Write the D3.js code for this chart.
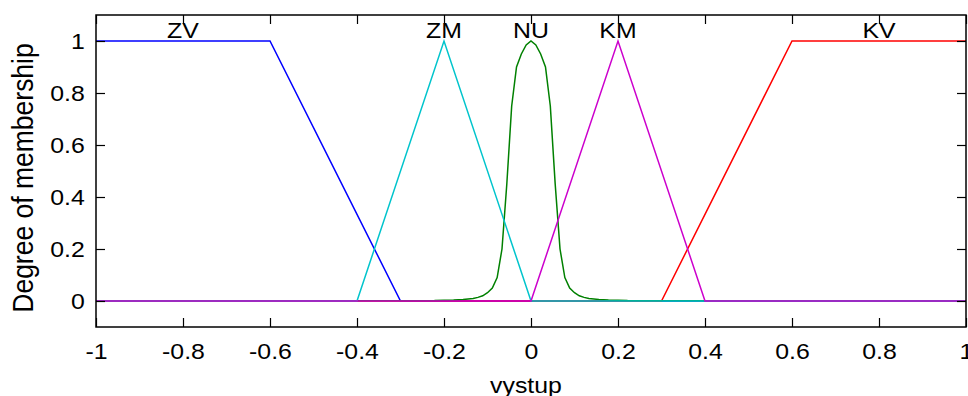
<!DOCTYPE html>
<html>
<head>
<meta charset="utf-8">
<script src="https://cdn.jsdelivr.net/npm/d3@7"></script>
<style>
  body { margin: 0; background: #fff; }
  text { font-family: "Liberation Sans", Arial, sans-serif; fill: #000; }
</style>
</head>
<body>
<div id="chart"></div>
<script>
// membership functions of output "vystup"
var mfNames = ["ZV", "ZM", "NU", "KM", "KV"];
var mfCenters = [-0.8, -0.2, 0, 0.2, 0.8];

var zvX = [-1, -0.6, -0.3, 1];
var zvY = [1, 1, 0, 0];

var zmX = [-1, -0.4, -0.2, 0, 1];
var zmY = [0, 0, 1, 0, 0];

var nuX = [-1, -0.222, -0.178, -0.156, -0.133, -0.122, -0.111, -0.1, -0.0889, -0.0778, -0.0667, -0.0556, -0.0444, -0.0333, -0.0222, -0.0111, 0,
           0.0111, 0.0222, 0.0333, 0.0444, 0.0556, 0.0667, 0.0778, 0.0889, 0.1, 0.111, 0.122, 0.133, 0.156, 0.178, 0.222, 1];
var nuY = [0, 0.002, 0.004, 0.006, 0.01, 0.014, 0.02, 0.032, 0.05, 0.09, 0.2, 0.45, 0.75, 0.9, 0.95, 0.985, 1,
           0.985, 0.95, 0.9, 0.75, 0.45, 0.2, 0.09, 0.05, 0.032, 0.02, 0.014, 0.01, 0.006, 0.004, 0.002, 0];

var kmX = [-1, 0, 0.2, 0.4, 1];
var kmY = [0, 0, 1, 0, 0];

var kvX = [-1, 0.3, 0.6, 1];
var kvY = [0, 0, 1, 1];

var xTicks = [-1, -0.8, -0.6, -0.4, -0.2, 0, 0.2, 0.4, 0.6, 0.8, 1];
var yTicks = [0, 0.2, 0.4, 0.6, 0.8, 1];

function drawChart() {
	var width = 968, height = 396;
	var padL = 96, padR = 966, padT = 15, padB = 327;
	var stretch = 1.13;

	var svg = d3.select("#chart").append("svg")
	    .attr("width", width)
	    .attr("height", height);

	var x = d3.scaleLinear().domain([-1, 1]).range([padL, padR]);
	var y = d3.scaleLinear().domain([-0.1, 1.1]).range([padB, padT]);

	var line = d3.line()
	    .x(d => x(d[0]))
	    .y(d => y(d[1]));

	// drawing order matters for the zero line (magenta ends on top)
	var curves = [
	  { xs: zvX, ys: zvY, color: "#0000ff" },
	  { xs: kvX, ys: kvY, color: "#ff0000" },
	  { xs: nuX, ys: nuY, color: "#008000" },
	  { xs: zmX, ys: zmY, color: "#00c4cc" },
	  { xs: kmX, ys: kmY, color: "#cc00cc" }
	];

	svg.append("g").selectAll("path")
	    .data(curves)
	    .enter()
	    .append("path")
	    .attr("d", d => line(d.xs.map((v, i) => [v, d.ys[i]])))
	    .attr("fill", "none")
	    .attr("stroke", d => d.color)
	    .attr("stroke-width", 1.5);

	// axes, ticks pointing inward on all four sides
	svg.append("g")
	    .attr("transform", "translate(0," + padB + ")")
	    .call(d3.axisBottom(x).tickValues(xTicks).tickSize(-9).tickPadding(16).tickFormat(d => String(d)));
	svg.append("g")
	    .attr("transform", "translate(0," + padT + ")")
	    .call(d3.axisTop(x).tickValues(xTicks).tickSize(-9).tickFormat(""));
	svg.append("g")
	    .attr("transform", "translate(" + padL + ",0)")
	    .call(d3.axisLeft(y).tickValues(yTicks).tickSize(-9).tickPadding(10).tickFormat(d => String(d)));
	svg.append("g")
	    .attr("transform", "translate(" + padR + ",0)")
	    .call(d3.axisRight(y).tickValues(yTicks).tickSize(-9).tickFormat(""));

	svg.selectAll(".domain").remove();
	svg.selectAll(".tick line").attr("stroke", "#000").attr("stroke-width", 1.2);
	svg.selectAll(".tick text")
	    .style("font-size", "22px")
	    .attr("fill", "#000")
	    .attr("transform", "scale(" + stretch + ",1)");

	svg.append("rect")
	    .attr("x", padL)
	    .attr("y", padT)
	    .attr("width", padR - padL)
	    .attr("height", padB - padT)
	    .attr("fill", "none")
	    .attr("stroke", "#000")
	    .attr("stroke-width", 1.5);

	// MF names above each function
	svg.append("g").selectAll("text")
	    .data(mfNames)
	    .enter()
	    .append("text")
	    .attr("transform", (d, i) => "translate(" + x(mfCenters[i]) + "," + (y(1) - 3) + ") scale(" + stretch + ",1)")
	    .attr("text-anchor", "middle")
	    .style("font-size", "22px")
	    .text(d => d);

	svg.append("text")
	    .attr("transform", "translate(" + ((padL + padR) / 2 - 5) + ",393) scale(" + stretch + ",1)")
	    .attr("text-anchor", "middle")
	    .style("font-size", "22px")
	    .text("vystup");

	svg.append("text")
	    .attr("transform", "translate(33," + ((padT + padB) / 2 + 7) + ") rotate(-90) scale(1," + stretch + ")")
	    .attr("text-anchor", "middle")
	    .style("font-size", "26.5px")
	    .text("Degree of membership");
}

drawChart();
</script>
</body>
</html>
